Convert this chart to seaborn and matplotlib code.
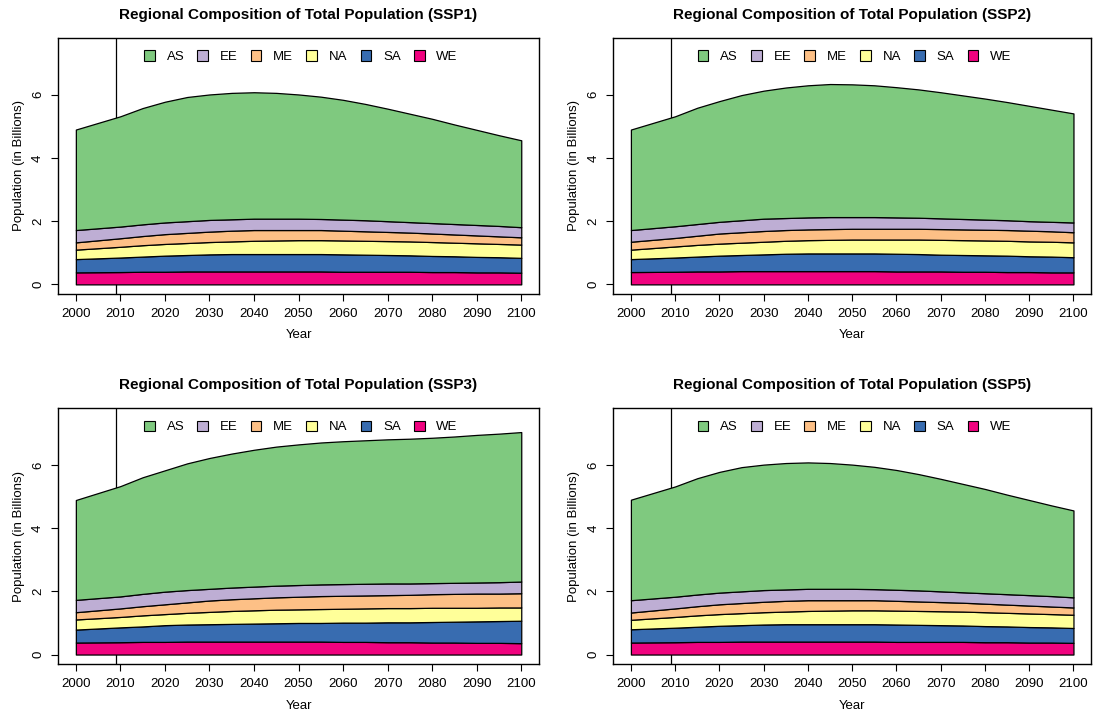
import numpy as np
import seaborn as sns
import matplotlib
matplotlib.use("Agg")
import matplotlib.pyplot as plt
from matplotlib.patches import Patch

sns.set_style("ticks")
plt.rcParams['font.family'] = ['Liberation Sans', 'DejaVu Sans']
plt.rcParams['text.color'] = 'black'
plt.rcParams['axes.labelcolor'] = 'black'
plt.rcParams['xtick.color'] = 'black'
plt.rcParams['ytick.color'] = 'black'

years = [2000, 2010, 2015, 2020, 2025, 2030, 2035, 2040, 2045, 2050, 2055,
         2060, 2065, 2070, 2075, 2080, 2085, 2090, 2095, 2100]
regions = ['AS', 'EE', 'ME', 'NA', 'SA', 'WE']

# population by region, billions (bottom of stack is WE)
ssp1 = {
    'WE': [0.38, 0.39, 0.40, 0.40, 0.41, 0.41, 0.41, 0.41, 0.41, 0.41, 0.41, 0.40, 0.40, 0.40, 0.40, 0.39, 0.39, 0.38, 0.38, 0.37],
    'SA': [0.42, 0.46, 0.48, 0.51, 0.52, 0.54, 0.55, 0.55, 0.55, 0.55, 0.55, 0.55, 0.54, 0.53, 0.52, 0.51, 0.50, 0.49, 0.48, 0.47],
    'NA': [0.30, 0.34, 0.36, 0.37, 0.38, 0.39, 0.40, 0.42, 0.43, 0.44, 0.44, 0.44, 0.44, 0.44, 0.44, 0.44, 0.43, 0.43, 0.42, 0.42],
    'ME': [0.23, 0.27, 0.29, 0.31, 0.32, 0.33, 0.34, 0.34, 0.33, 0.32, 0.32, 0.31, 0.30, 0.29, 0.28, 0.27, 0.26, 0.25, 0.24, 0.23],
    'EE': [0.39, 0.37, 0.37, 0.37, 0.37, 0.37, 0.36, 0.36, 0.36, 0.36, 0.35, 0.35, 0.35, 0.34, 0.33, 0.33, 0.33, 0.33, 0.33, 0.32],
    'AS': [3.18, 3.49, 3.68, 3.82, 3.93, 3.97, 4.00, 4.00, 3.98, 3.93, 3.87, 3.79, 3.68, 3.56, 3.43, 3.30, 3.15, 3.01, 2.87, 2.75],
}
ssp2 = {
    'WE': [0.39, 0.40, 0.41, 0.41, 0.42, 0.42, 0.42, 0.42, 0.42, 0.42, 0.42, 0.41, 0.41, 0.41, 0.40, 0.40, 0.39, 0.39, 0.38, 0.38],
    'SA': [0.41, 0.45, 0.47, 0.50, 0.51, 0.53, 0.55, 0.56, 0.56, 0.56, 0.56, 0.56, 0.55, 0.53, 0.53, 0.52, 0.52, 0.50, 0.50, 0.48],
    'NA': [0.30, 0.35, 0.37, 0.38, 0.39, 0.40, 0.41, 0.42, 0.43, 0.44, 0.44, 0.45, 0.46, 0.47, 0.47, 0.47, 0.47, 0.47, 0.47, 0.47],
    'ME': [0.25, 0.27, 0.29, 0.32, 0.33, 0.34, 0.34, 0.34, 0.34, 0.34, 0.34, 0.34, 0.34, 0.34, 0.34, 0.34, 0.34, 0.34, 0.33, 0.32],
    'EE': [0.37, 0.37, 0.37, 0.37, 0.38, 0.39, 0.38, 0.38, 0.38, 0.37, 0.37, 0.36, 0.35, 0.34, 0.33, 0.32, 0.31, 0.30, 0.30, 0.31],
    'AS': [3.18, 3.48, 3.68, 3.82, 3.96, 4.05, 4.13, 4.18, 4.21, 4.20, 4.17, 4.12, 4.06, 3.99, 3.91, 3.83, 3.74, 3.65, 3.55, 3.45],
}
ssp3 = {
    'WE': [0.38, 0.39, 0.40, 0.40, 0.41, 0.41, 0.41, 0.41, 0.41, 0.41, 0.41, 0.40, 0.40, 0.39, 0.39, 0.38, 0.38, 0.37, 0.37, 0.36],
    'SA': [0.41, 0.47, 0.49, 0.53, 0.54, 0.55, 0.56, 0.57, 0.58, 0.59, 0.59, 0.61, 0.61, 0.63, 0.63, 0.65, 0.66, 0.68, 0.69, 0.71],
    'NA': [0.32, 0.33, 0.35, 0.35, 0.37, 0.39, 0.41, 0.42, 0.43, 0.43, 0.44, 0.44, 0.45, 0.45, 0.45, 0.45, 0.44, 0.43, 0.43, 0.42],
    'ME': [0.23, 0.27, 0.29, 0.31, 0.33, 0.36, 0.37, 0.38, 0.39, 0.40, 0.41, 0.41, 0.41, 0.41, 0.42, 0.43, 0.44, 0.45, 0.44, 0.45],
    'EE': [0.39, 0.38, 0.39, 0.40, 0.39, 0.37, 0.37, 0.37, 0.37, 0.37, 0.37, 0.37, 0.37, 0.37, 0.36, 0.35, 0.35, 0.35, 0.36, 0.37],
    'AS': [3.16, 3.49, 3.69, 3.84, 4.01, 4.14, 4.24, 4.33, 4.40, 4.45, 4.49, 4.52, 4.54, 4.56, 4.58, 4.60, 4.63, 4.67, 4.70, 4.73],
}
ssp5 = {
    'WE': [0.38, 0.39, 0.40, 0.40, 0.41, 0.41, 0.41, 0.41, 0.41, 0.41, 0.41, 0.40, 0.40, 0.40, 0.40, 0.39, 0.39, 0.38, 0.38, 0.37],
    'SA': [0.42, 0.46, 0.48, 0.51, 0.52, 0.54, 0.55, 0.55, 0.55, 0.55, 0.55, 0.55, 0.54, 0.53, 0.52, 0.51, 0.50, 0.49, 0.48, 0.47],
    'NA': [0.30, 0.34, 0.36, 0.37, 0.38, 0.39, 0.40, 0.42, 0.43, 0.44, 0.44, 0.44, 0.44, 0.44, 0.44, 0.44, 0.43, 0.43, 0.42, 0.42],
    'ME': [0.23, 0.27, 0.29, 0.31, 0.32, 0.33, 0.34, 0.34, 0.33, 0.32, 0.32, 0.31, 0.30, 0.29, 0.28, 0.27, 0.26, 0.25, 0.24, 0.23],
    'EE': [0.39, 0.37, 0.37, 0.37, 0.37, 0.37, 0.36, 0.36, 0.36, 0.36, 0.35, 0.35, 0.35, 0.34, 0.33, 0.33, 0.33, 0.33, 0.33, 0.32],
    'AS': [3.18, 3.49, 3.68, 3.82, 3.93, 3.97, 4.00, 4.00, 3.98, 3.93, 3.87, 3.79, 3.68, 3.56, 3.43, 3.30, 3.15, 3.01, 2.87, 2.75],
}
scenarios = ['SSP1', 'SSP2', 'SSP3', 'SSP5']
data = [ssp1, ssp2, ssp3, ssp5]

colors = dict(zip(regions, sns.color_palette("Accent", 6)))

fig = plt.figure(figsize=(10.95, 7.15), dpi=100)
lefts = [0.053, 0.560, 0.053, 0.560]
bottoms = [0.589, 0.589, 0.0713, 0.0713]
widths = [0.4393, 0.4365, 0.4393, 0.4365]

for i, (name, d) in enumerate(zip(scenarios, data)):
    ax = fig.add_axes([lefts[i], bottoms[i], widths[i], 0.358])
    ax.axvline(2009, color='black', lw=0.9, zorder=1)
    base = np.zeros(len(years))
    for r in regions[::-1]:
        top = base + np.array(d[r])
        ax.fill_between(years, base, top, facecolor=colors[r], edgecolor='black',
                        linewidth=0.9, zorder=2)
        base = top
    ax.set_xlim(1996, 2104)
    ax.set_ylim(-0.3, 7.8)
    ax.set_xticks(range(2000, 2101, 10))
    ax.set_yticks([0, 2, 4, 6])
    ax.set_yticklabels(['0', '2', '4', '6'], rotation=90, va='center')
    ax.tick_params(direction='out', length=5, width=0.8, labelsize=9.5, pad=5, colors='black')
    for s in ax.spines.values():
        s.set_visible(True)
        s.set_linewidth(1.0)
        s.set_color('black')
    ax.set_title(f'Regional Composition of Total Population ({name})',
                 fontsize=11, fontweight='bold', pad=13.5, color='black')
    ax.set_xlabel('Year', fontsize=9.5, labelpad=7)
    ax.set_ylabel('Population (in Billions)', fontsize=9.5, labelpad=5)
    handles = [Patch(facecolor=colors[r], edgecolor='black', linewidth=0.8) for r in regions]
    ax.legend(handles, regions, loc='upper center', bbox_to_anchor=(0.505, 1.0), ncol=6,
              frameon=False, fontsize=9.5, handlelength=0.8, handleheight=0.8,
              handletextpad=0.9, columnspacing=1.0, borderaxespad=0.55)

fig.savefig('out.png', dpi=100)
